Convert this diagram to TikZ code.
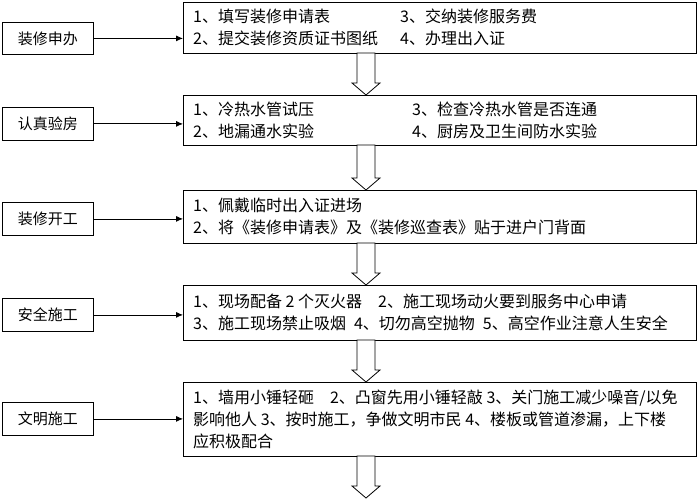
\documentclass[tikz,border=0pt]{standalone}
\usepackage{fontspec}
\setmainfont{Noto Sans CJK SC}
\usetikzlibrary{arrows.meta}
\tikzset{
    stage/.style = {rectangle, draw=black, line width=0.8pt, minimum width=91pt, anchor=north west, font=\fontsize{15}{17}\selectfont, inner sep=0pt},
    detail/.style = {rectangle, draw=black, line width=0.8pt, minimum width=513pt, anchor=north west, inner sep=0pt},
    info/.style = {anchor=west, inner sep=0pt, font=\fontsize{16}{22}\selectfont, align=left},
    down/.style = {draw=black, line width=0.8pt, fill=white, line join=miter},
    edgen/.style = {-{Latex[length=7pt,width=6pt]}, line width=0.8pt}
}
\begin{document}
\begin{tikzpicture}[x=1pt,y=-1pt]
\useasboundingbox (0,0) rectangle (698,500);
% stages
\node[stage, minimum height=32pt] at (2,22) (s1) {装修申办};
\node[stage, minimum height=33pt] at (2,107) (s2) {认真验房};
\node[stage, minimum height=33pt] at (2,202) (s3) {装修开工};
\node[stage, minimum height=33pt] at (2,298) (s4) {安全施工};
\node[stage, minimum height=33pt] at (2,402) (s5) {文明施工};
% details
\node[detail, minimum height=51pt] at (183,2) (d1) {};
\node[detail, minimum height=50pt] at (183,95) (d2) {};
\node[detail, minimum height=53pt] at (183,190) (d3) {};
\node[detail, minimum height=55pt] at (183,285) (d4) {};
\node[detail, minimum height=74pt] at (183,382) (d5) {};
\node[info] at (193,27) (t1a) {1、填写装修申请表\\2、提交装修资质证书图纸};
\node[info] at (400,27) (t1b) {3、交纳装修服务费\\4、办理出入证};
\node[info] at (193,120) (t2a) {1、冷热水管试压\\2、地漏通水实验};
\node[info] at (412,120) (t2b) {3、检查冷热水管是否连通\\4、厨房及卫生间防水实验};
\node[info] at (193,216) (t3) {1、佩戴临时出入证进场\\2、将《装修申请表》及《装修巡查表》贴于进户门背面};
\node[info] at (193,312) (t4) {1、现场配备 2 个灭火器\quad 2、施工现场动火要到服务中心申请\\3、施工现场禁止吸烟\enspace 4、切勿高空抛物\enspace 5、高空作业注意人生安全};
\node[info] at (193,419) (t5) {1、墙用小锤轻砸\quad 2、凸窗先用小锤轻敲 3、关门施工减少噪音/以免\\影响他人 3、按时施工，争做文明市民 4、楼板或管道渗漏，上下楼\\应积极配合};
% connectors
\foreach \i in {1,...,5}
  \draw[edgen] (s\i.east) -- (s\i.east -| d\i.west);
\foreach \y/\h in {53/42, 145/45, 243/42, 340/42, 456/42}
  \draw[down] (357,\y) -- (375,\y) -- (375,\y+\h-12) -- (380,\y+\h-12)
    -- (366,\y+\h) -- (352,\y+\h-12) -- (357,\y+\h-12) -- cycle;
\end{tikzpicture}
\end{document}
